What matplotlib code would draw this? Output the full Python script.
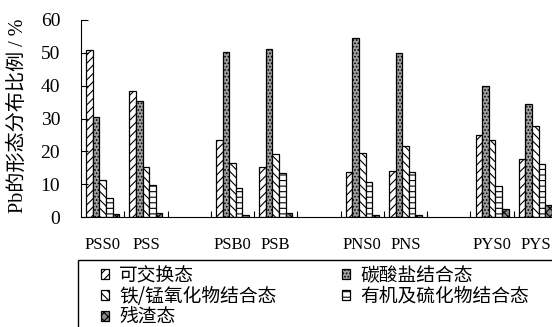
import numpy as np
import matplotlib.pyplot as plt
from matplotlib.patches import Patch, Rectangle

plt.rcParams['hatch.linewidth'] = 0.8

# 样品 (空位用来分隔各组)
samples = ['PSS0', 'PSS', '', 'PSB0', 'PSB', '', 'PNS0', 'PNS', '', 'PYS0', 'PYS']
forms = ['可交换态', '碳酸盐结合态', '铁/锰氧化物结合态', '有机及硫化物结合态', '残渣态']

# Pb各形态所占比例 (%)
exchangeable = [51.0, 38.5, np.nan, 23.5, 15.3, np.nan, 13.6, 14.0, np.nan, 25.1, 17.6]
carbonate = [30.6, 35.4, np.nan, 50.2, 51.1, np.nan, 54.5, 49.9, np.nan, 39.9, 34.5]
fe_mn_oxide = [11.3, 15.3, np.nan, 16.4, 19.2, np.nan, 19.5, 21.6, np.nan, 23.4, 27.8]
organic_sulfide = [5.7, 9.8, np.nan, 8.9, 13.3, np.nan, 10.8, 13.6, np.nan, 9.4, 16.1]
residual = [0.8, 1.1, np.nan, 0.7, 1.1, np.nan, 0.7, 0.7, np.nan, 2.3, 3.6]

series = [exchangeable, carbonate, fe_mn_oxide, organic_sulfide, residual]
faces = ['white', '#a0a0a0', 'white', 'white', '#8a8a8a']
hatches = ['////', '.....', '\\\\\\\\', '---', 'xxxx']

serif = ['Liberation Serif', 'Noto Sans CJK SC']
cjk = ['Noto Sans CJK SC', 'DejaVu Sans']

fig = plt.figure(figsize=(5.52, 3.27), dpi=100)
ax = fig.add_axes([81 / 552, 110 / 327, 476 / 552, 197 / 327])

x = np.arange(len(samples))
w = 0.153
for i, (vals, fc, h) in enumerate(zip(series, faces, hatches)):
    ax.bar(x + (i - 2) * w, vals, w, color=fc, edgecolor='black',
           hatch=h, linewidth=0.9)

ax.set_xlim(-0.5, len(samples) - 0.5)
ax.set_ylim(0, 60)
ax.set_yticks(range(0, 61, 10))
ax.tick_params(axis='y', direction='in', length=5, labelsize=14, pad=15)
for lab in ax.get_yticklabels():
    lab.set_family(serif)

# 组间分隔的短刻度
ax.set_xticks(x[:-1] + 0.5)
ax.set_xticklabels([])
ax.tick_params(axis='x', direction='in', length=4)
for xi, s in zip(x, samples):
    if s:
        ax.text(xi, -0.142, s, transform=ax.get_xaxis_transform(),
                ha='center', va='center', fontsize=12, family=serif)

ax.spines['top'].set_visible(False)
ax.spines['right'].set_visible(False)
fig.text(18 / 552, 1 - 116 / 327, 'Pb的形态分布比例 / %', rotation=90,
         ha='center', va='center', fontsize=14.5, family=serif)

handles = [Patch(facecolor=fc, edgecolor='black', hatch=h, linewidth=0.9)
           for fc, h in zip(faces, hatches)]

fig.patches.append(Rectangle((78 / 552, -0.1), 0.9, (327 - 260) / 327 + 0.1,
                             transform=fig.transFigure, fill=False,
                             edgecolor='black', linewidth=1))

leg_kw = dict(loc='upper left', frameon=False, borderpad=0, borderaxespad=0,
              handlelength=0.42, handleheight=0.42, handletextpad=0.55,
              labelspacing=0.0, prop={'family': cjk, 'size': 13.5})
fig.legend([handles[0], handles[2], handles[4]], [forms[0], forms[2], forms[4]],
           bbox_to_anchor=(101 / 552, (327 - 265) / 327), **leg_kw)
fig.legend([handles[1], handles[3]], [forms[1], forms[3]],
           bbox_to_anchor=(342 / 552, (327 - 265) / 327), **leg_kw)

fig.savefig('out.png', dpi=100)
